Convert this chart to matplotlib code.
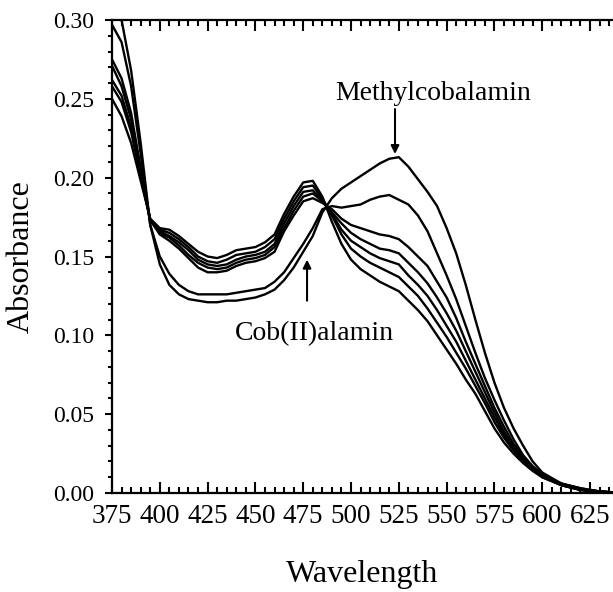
import matplotlib
matplotlib.use("Agg")
import matplotlib.pyplot as plt
from matplotlib.ticker import MultipleLocator, FormatStrFormatter

plt.rcParams["font.family"] = ["Liberation Serif", "DejaVu Serif"]

# wavelength (nm)
wl = [375, 380, 385, 390, 395, 400, 405, 410, 415, 420, 425, 430, 435, 440,
      445, 450, 455, 460, 465, 470, 475, 480, 485, 490, 495, 500, 505, 510,
      515, 520, 525, 530, 535, 540, 545, 550, 555, 560, 565, 570, 575, 580,
      585, 590, 595, 600, 610, 620, 630, 640]

# absorbance spectra, from cob(II)alamin-like (c1) to methylcobalamin (c7)
c1 = [0.250, 0.239, 0.222, 0.198, 0.174, 0.168, 0.167, 0.163, 0.158, 0.153,
      0.150, 0.149, 0.151, 0.154, 0.155, 0.156, 0.159, 0.164, 0.177, 0.188,
      0.197, 0.198, 0.188, 0.172, 0.158, 0.148, 0.142, 0.138, 0.134, 0.131,
      0.128, 0.122, 0.116, 0.109, 0.100, 0.091, 0.082, 0.072, 0.063, 0.052,
      0.041, 0.032, 0.025, 0.019, 0.014, 0.010, 0.005, 0.002, 0.001, 0.000]
c2 = [0.258, 0.248, 0.229, 0.201, 0.173, 0.167, 0.165, 0.161, 0.156, 0.150,
      0.147, 0.146, 0.148, 0.151, 0.152, 0.153, 0.156, 0.161, 0.174, 0.185,
      0.194, 0.195, 0.187, 0.176, 0.164, 0.155, 0.150, 0.146, 0.143, 0.140,
      0.137, 0.131, 0.125, 0.117, 0.108, 0.099, 0.089, 0.079, 0.068, 0.057,
      0.045, 0.035, 0.027, 0.020, 0.015, 0.010, 0.005, 0.002, 0.001, 0.000]
c3 = [0.262, 0.252, 0.232, 0.203, 0.173, 0.166, 0.163, 0.159, 0.154, 0.148,
      0.145, 0.144, 0.145, 0.148, 0.150, 0.151, 0.153, 0.158, 0.171, 0.182,
      0.191, 0.192, 0.186, 0.177, 0.167, 0.160, 0.156, 0.152, 0.149, 0.147,
      0.145, 0.138, 0.132, 0.125, 0.116, 0.106, 0.096, 0.084, 0.072, 0.060,
      0.048, 0.037, 0.028, 0.021, 0.015, 0.011, 0.005, 0.002, 0.001, 0.000]
c4 = [0.271, 0.258, 0.237, 0.205, 0.173, 0.165, 0.162, 0.157, 0.151, 0.146,
      0.143, 0.142, 0.143, 0.146, 0.148, 0.149, 0.151, 0.156, 0.168, 0.179,
      0.188, 0.190, 0.185, 0.178, 0.171, 0.165, 0.161, 0.158, 0.155, 0.154,
      0.152, 0.146, 0.140, 0.133, 0.124, 0.114, 0.103, 0.090, 0.077, 0.064,
      0.051, 0.039, 0.029, 0.022, 0.016, 0.011, 0.005, 0.002, 0.001, 0.000]
c5 = [0.275, 0.263, 0.241, 0.206, 0.173, 0.164, 0.160, 0.155, 0.149, 0.143,
      0.140, 0.140, 0.141, 0.144, 0.146, 0.147, 0.149, 0.153, 0.166, 0.176,
      0.185, 0.187, 0.184, 0.180, 0.174, 0.170, 0.168, 0.166, 0.164, 0.163,
      0.161, 0.156, 0.150, 0.144, 0.134, 0.124, 0.111, 0.096, 0.082, 0.068,
      0.054, 0.042, 0.031, 0.023, 0.016, 0.011, 0.006, 0.002, 0.001, 0.000]
c6 = [0.297, 0.286, 0.258, 0.215, 0.170, 0.150, 0.139, 0.132, 0.128, 0.126,
      0.126, 0.126, 0.126, 0.127, 0.128, 0.129, 0.130, 0.134, 0.140, 0.149,
      0.158, 0.168, 0.180, 0.182, 0.181, 0.182, 0.183, 0.186, 0.188, 0.189,
      0.186, 0.183, 0.176, 0.166, 0.152, 0.138, 0.123, 0.106, 0.089, 0.073,
      0.059, 0.046, 0.034, 0.024, 0.017, 0.012, 0.006, 0.003, 0.001, 0.000]
c7 = [0.310, 0.300, 0.268, 0.222, 0.170, 0.145, 0.132, 0.126, 0.123, 0.122,
      0.121, 0.121, 0.122, 0.122, 0.123, 0.124, 0.126, 0.129, 0.135, 0.143,
      0.153, 0.163, 0.178, 0.187, 0.193, 0.197, 0.201, 0.205, 0.209, 0.212,
      0.213, 0.207, 0.199, 0.191, 0.182, 0.168, 0.152, 0.132, 0.110, 0.089,
      0.070, 0.054, 0.041, 0.030, 0.020, 0.013, 0.006, 0.003, 0.001, 0.000]

spectra = [c1, c2, c3, c4, c5, c6, c7]

fig = plt.figure(figsize=(6.13, 5.92), dpi=100)
ax = fig.add_axes([0.1827, 0.1672, 0.8173, 0.799])

for s in spectra:
    ax.plot(wl, s, color="black", lw=1.7)

ax.set_xlim(375, 637)
ax.set_ylim(0, 0.30)

ax.spines["right"].set_visible(False)
for side in ["left", "bottom", "top"]:
    ax.spines[side].set_linewidth(1.6)

ax.xaxis.set_major_locator(MultipleLocator(25))
ax.xaxis.set_minor_locator(MultipleLocator(5))
ax.yaxis.set_major_locator(MultipleLocator(0.05))
ax.yaxis.set_minor_locator(MultipleLocator(0.01))
ax.yaxis.set_major_formatter(FormatStrFormatter("%.2f"))

ax.tick_params(axis="x", which="both", direction="in", top=True, width=1.5)
ax.tick_params(axis="x", which="major", length=8, labelsize=19.5, pad=8)
ax.tick_params(axis="x", which="minor", length=4)
ax.tick_params(axis="y", which="both", direction="out", right=False, width=1.5)
ax.tick_params(axis="y", which="major", length=5, labelsize=17, pad=8)
ax.tick_params(axis="y", which="minor", length=3)

ax.set_xlabel("Wavelength", fontsize=23, labelpad=22)
ax.set_ylabel("Absorbance", fontsize=23, labelpad=12)

ax.text(543, 0.249, "Methylcobalamin", fontsize=20, ha="center", va="baseline")
ax.annotate("", xy=(523, 0.2150), xytext=(523, 0.2435),
            arrowprops=dict(arrowstyle="-|>", color="black", lw=1.5,
                            mutation_scale=12, shrinkA=0, shrinkB=0))

ax.text(481, 0.097, "Cob(II)alamin", fontsize=20, ha="center", va="baseline")
ax.annotate("", xy=(477, 0.1480), xytext=(477, 0.1220),
            arrowprops=dict(arrowstyle="-|>", color="black", lw=1.5,
                            mutation_scale=12, shrinkA=0, shrinkB=0))

fig.savefig("out.png", dpi=100)
